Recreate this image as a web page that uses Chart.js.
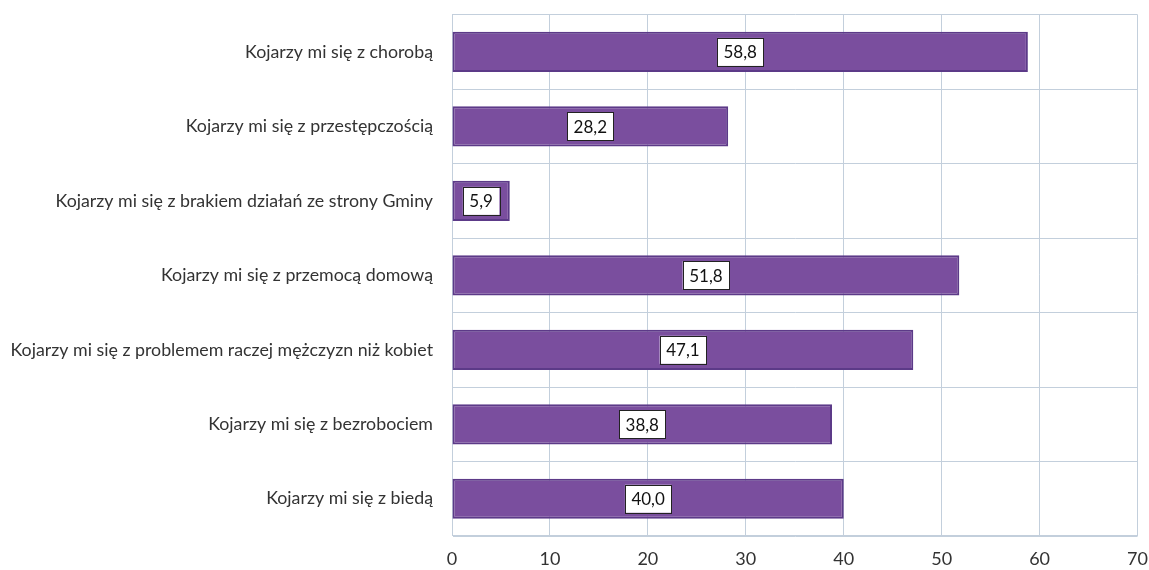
<!DOCTYPE html>
<html>
<head>
<meta charset="utf-8">
<script src="https://cdn.jsdelivr.net/npm/chart.js@4"></script>
<style>
  html, body { margin: 0; padding: 0; background: #fff; overflow: hidden; }
  canvas { display: block; margin-top: -15px; }
</style>
</head>
<body>
<canvas id="barChart" width="1160" height="586"></canvas>
<script>
// Data
var categories = [
    'Kojarzy mi się z chorobą',
    'Kojarzy mi się z przestępczością',
    'Kojarzy mi się z brakiem działań ze strony Gminy',
    'Kojarzy mi się z przemocą domową',
    'Kojarzy mi się z problemem raczej mężczyzn niż kobiet',
    'Kojarzy mi się z bezrobociem',
    'Kojarzy mi się z biedą'
];
var values = [58.8, 28.2, 5.9, 51.8, 47.1, 38.8, 40.0];
var xTicks = [0, 10, 20, 30, 40, 50, 60, 70];

// Value boxes in the middle of each bar
var boxLabels = {
    id: 'boxLabels',
    afterDatasetsDraw: function(chart) {
        var ctx = chart.ctx;
        var meta = chart.getDatasetMeta(0);
        ctx.save();
        ctx.font = '17px Lato';
        ctx.textAlign = 'center';
        ctx.textBaseline = 'middle';
        meta.data.forEach(function(bar, i) {
            var txt = values[i].toFixed(1).replace('.', ',');
            var cx = (bar.x + bar.base) / 2;
            var cy = bar.y;
            var w = ctx.measureText(txt).width + 13;
            var h = 28;
            ctx.fillStyle = '#ffffff';
            ctx.fillRect(cx - w / 2, cy - h / 2, w, h);
            ctx.strokeStyle = '#222222';
            ctx.lineWidth = 1;
            ctx.strokeRect(Math.round(cx - w / 2) + 0.5, Math.round(cy - h / 2) + 0.5, Math.round(w), h);
            ctx.fillStyle = '#111111';
            ctx.fillText(txt, cx, cy + 1);
        });
        ctx.restore();
    }
};

// Chart
const ctx = document.getElementById('barChart').getContext('2d');
const barChart = new Chart(ctx, {
    type: 'bar',
    data: {
        labels: categories,
        datasets: [{
            data: values,
            backgroundColor: '#7A4E9E',
            borderColor: '#5C3A88',
            borderWidth: 2,
            borderSkipped: false,
            categoryPercentage: 1,
            barPercentage: 0.54
        }]
    },
    options: {
        indexAxis: 'y',
        responsive: false,
        animation: false,
        layout: { autoPadding: false, padding: 0 },
        plugins: {
            legend: { display: false },
            tooltip: { enabled: false }
        },
        scales: {
            x: {
                min: 0,
                max: 70,
                afterBuildTicks: function(scale) {
                    scale.ticks = xTicks.map(function(v) { return { value: v }; });
                },
                afterFit: function(scale) { scale.height = 35; },
                grid: { color: '#c3cfdc', drawTicks: false },
                border: { color: '#c3cfdc' },
                ticks: { color: '#333', font: { family: 'Lato', size: 18 }, padding: 12 }
            },
            y: {
                afterFit: function(scale) { scale.width = 452; },
                grid: { color: '#c3cfdc', drawTicks: false, offset: true },
                border: { color: '#c3cfdc' },
                ticks: { color: '#333', font: { family: 'Lato', size: 17.8 }, padding: 19 }
            }
        }
    },
    plugins: [boxLabels]
});
</script>
</body>
</html>
